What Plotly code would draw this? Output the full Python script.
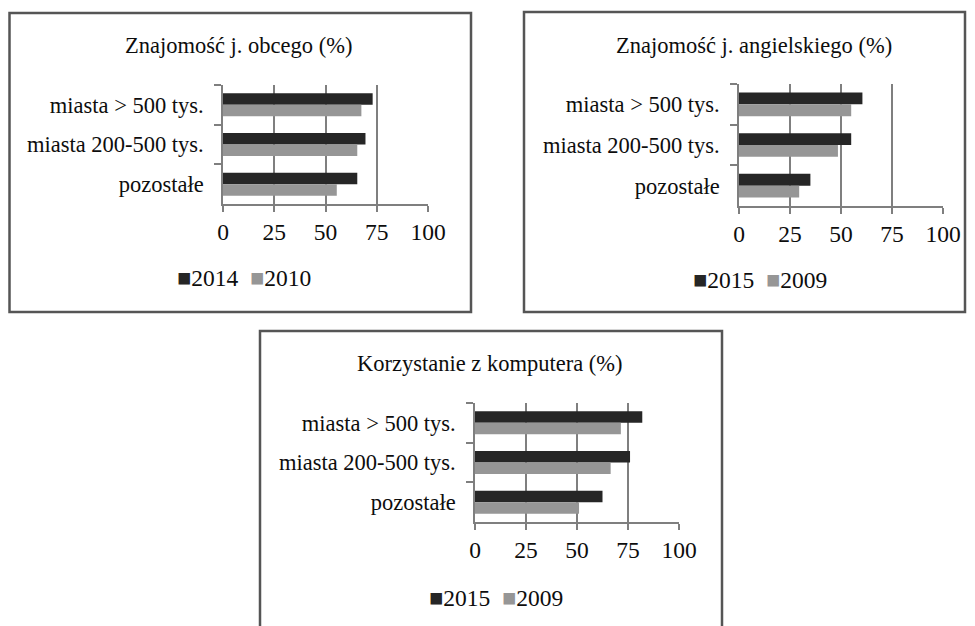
import plotly.graph_objects as go

W, H = 975, 626
OFF = 8  # the page places the figure 8 px in from the top-left corner

categories = ["miasta > 500 tys.", "miasta 200-500 tys.", "pozostałe"]

titles = ["Znajomość j. obcego (%)", "Znajomość j. angielskiego (%)", "Korzystanie z komputera (%)"]

p1_years = ["2014", "2010"]
p1_new = [73, 69.5, 65.5]
p1_old = [67.5, 65.5, 55.5]

p2_years = ["2015", "2009"]
p2_new = [60.5, 55, 35]
p2_old = [55, 48.5, 29.5]

p3_years = ["2015", "2009"]
p3_new = [82, 76, 62.5]
p3_old = [71.5, 66.5, 51]

x_ticks = [0, 25, 50, 75, 100]

DARK = "#262626"
GRAY = "#969696"
GRID = "#7f7f7f"
BORDER = "#555555"
TEXT = "#0d0d0d"
FONT = "Liberation Serif"


def px_x(p):
    return (p - OFF) / W


def px_y(p):
    return 1 - (p - OFF) / H


# panel geometry in page pixels
panels = [
    dict(plot=(223, 428, 85, 204), box=(9.5, 471, 13, 312), title=(238.5, 45), legend=(244, 278)),
    dict(plot=(739, 943, 84, 206), box=(524, 965, 12, 312), title=(754, 45), legend=(759.5, 280)),
    dict(plot=(475, 679, 403, 522), box=(260, 722, 331, 660), title=(490, 363), legend=(496, 598)),
]

data = [(p1_years, p1_new, p1_old), (p2_years, p2_new, p2_old), (p3_years, p3_new, p3_old)]

fig = go.Figure()
layout = dict(
    width=W, height=H, margin=dict(l=0, r=0, t=0, b=0, autoexpand=False),
    paper_bgcolor="white", plot_bgcolor="white",
    barmode="group", bargap=0.42, bargroupgap=0,
    font=dict(family=FONT, size=22.5, color=TEXT),
    showlegend=False,
    shapes=[], annotations=[],
)

for i, (pan, (years, new, old)) in enumerate(zip(panels, data)):
    n = "" if i == 0 else str(i + 1)
    xa, ya = "x" + n, "y" + n
    fig.add_trace(go.Bar(x=new, y=categories, orientation="h", name=years[0],
                         marker=dict(color=DARK, line=dict(width=0)),
                         xaxis=xa, yaxis=ya))
    fig.add_trace(go.Bar(x=old, y=categories, orientation="h", name=years[1],
                         marker=dict(color=GRAY, line=dict(width=0)),
                         xaxis=xa, yaxis=ya))
    x0, x1, y0, y1 = pan["plot"]
    layout["xaxis" + n] = dict(
        domain=[px_x(x0), px_x(x1)], anchor=ya, range=[0, 100], automargin=False,
        tickvals=x_ticks, showgrid=True, gridcolor=GRID, gridwidth=1.5,
        zeroline=False, showline=True, linecolor=GRID, linewidth=1.5,
        ticks="outside", ticklen=6, tickcolor=GRID, tickwidth=1.5,
        tickfont=dict(size=23.5, family=FONT, color=TEXT), ticklabelstandoff=0,
        fixedrange=True,
    )
    layout["yaxis" + n] = dict(
        domain=[px_y(y1), px_y(y0)], anchor=xa, autorange="reversed", automargin=False,
        categoryorder="array", categoryarray=categories,
        showgrid=False, zeroline=False, showline=True, linecolor=GRID, linewidth=1.5,
        ticks="outside", tickson="boundaries", ticklen=7, tickcolor=GRID, tickwidth=1.5,
        tickfont=dict(size=22.5, family=FONT, color=TEXT), ticklabelstandoff=13,
        fixedrange=True,
    )
    bx0, bx1, by0, by1 = pan["box"]
    layout["shapes"].append(dict(type="rect", xref="paper", yref="paper",
                                 x0=px_x(bx0), x1=px_x(bx1), y0=px_y(by1), y1=px_y(by0),
                                 line=dict(color=BORDER, width=2.5), fillcolor="rgba(0,0,0,0)"))
    tx, ty = pan["title"]
    layout["annotations"].append(dict(text=titles[i], xref="paper", yref="paper",
                                      x=px_x(tx), y=px_y(ty), xanchor="center", yanchor="middle",
                                      showarrow=False, font=dict(size=22.5, family=FONT, color=TEXT)))
    lx, ly = pan["legend"]
    legend_text = (f'<span style="color:{DARK}">■</span>{years[0]}\u00a0\u00a0'
                   f'<span style="color:{GRAY}">■</span>{years[1]}')
    layout["annotations"].append(dict(text=legend_text, xref="paper", yref="paper",
                                      x=px_x(lx), y=px_y(ly), xanchor="center", yanchor="middle",
                                      showarrow=False, font=dict(size=23.5, family=FONT, color=TEXT)))

fig.update_layout(**layout)
fig.write_html("out.html")
